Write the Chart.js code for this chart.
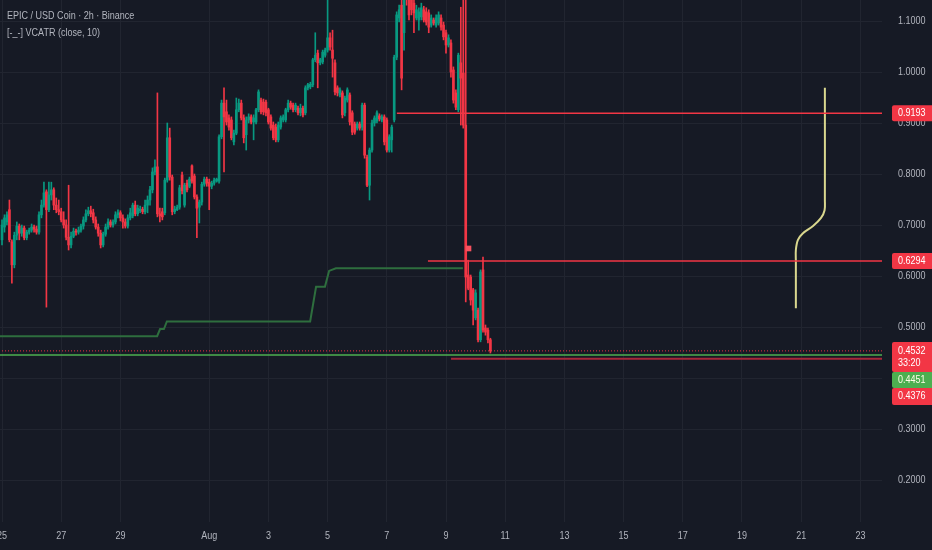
<!DOCTYPE html>
<html>
<head>
<meta charset="utf-8">
<script src="https://cdn.jsdelivr.net/npm/chart.js@4.4.1/dist/chart.umd.min.js"></script>
<style>
  html, body { margin: 0; padding: 0; background: #161a25; }
  #wrap { width: 932px; height: 550px; position: relative; }
</style>
</head>
<body>
<div id="wrap"><canvas id="myChart"></canvas></div>
<script>
// EPIC / USD Coin, 2h candles starting 25 Jul 00:00

const opens = [
  .671,.696,.706,.730,.667,.622,.680,.698,.684,.694,
  .675,.686,.690,.696,.692,.686,.720,.739,.765,.730,
  .759,.769,.739,.730,.726,.710,.700,.676,.661,.678,
  .688,.686,.690,.698,.710,.722,.728,.724,.710,.696,
  .684,.661,.682,.696,.706,.700,.706,.720,.724,.714,
  .706,.698,.714,.718,.739,.722,.728,.731,.726,.739,
  .749,.769,.804,.814,.722,.726,.724,.788,.871,.794,
  .726,.730,.735,.798,.739,.782,.776,.816,.796,.755,
  .735,.745,.780,.790,.784,.776,.782,.786,.786,.873,
  .939,.922,.910,.906,.863,.880,.926,.939,.910,.877,
  .906,.912,.902,.902,.926,.945,.941,.941,.926,.912,
  .896,.892,.867,.892,.906,.906,.926,.939,.935,.926,
  .929,.920,.929,.920,.969,.971,.975,1.024,1.037,1.018,
  1.020,1.033,1.043,1.067,1.043,1.018,.969,.955,.959,.920,
  .945,.955,.920,.898,.890,.898,.892,.935,.833,.778,
  .847,.900,.904,.914,.906,.912,.906,.847,.867,.906,
  1.029,1.106,1.131,1.077,1.161,1.151,1.141,1.135,1.106,1.102,
  1.108,1.122,1.118,1.116,1.092,1.102,1.092,1.096,1.106,1.092,
  1.077,1.053,1.057,1.004,.959,.926,1.018,.998,.896,.602,
  .598,.573,.518,.533,.475,.612,.498,.494,.475
];
const closes = [
  .700,.714,.720,.671,.622,.680,.698,.684,.694,.675,
  .686,.690,.696,.692,.686,.720,.739,.763,.730,.759,
  .769,.739,.730,.726,.710,.700,.676,.661,.678,.688,
  .686,.690,.698,.710,.722,.728,.722,.710,.696,.684,
  .661,.682,.696,.706,.700,.706,.720,.724,.714,.706,
  .698,.714,.724,.739,.722,.733,.731,.726,.739,.749,
  .769,.804,.814,.722,.718,.716,.788,.871,.794,.726,
  .731,.735,.773,.767,.778,.769,.790,.786,.755,.733,
  .745,.780,.790,.782,.776,.782,.788,.790,.873,.939,
  .912,.902,.892,.871,.880,.926,.939,.910,.871,.906,
  .912,.902,.910,.926,.961,.922,.922,.920,.902,.890,
  .871,.867,.896,.910,.912,.926,.939,.931,.926,.935,
  .920,.929,.916,.969,.975,.976,1.024,1.033,1.018,1.024,
  1.039,1.043,1.067,1.049,1.027,.961,.959,.965,.916,.949,
  .965,.902,.882,.882,.898,.890,.935,.837,.778,.847,
  .900,.910,.920,.908,.912,.863,.847,.873,.892,1.029,
  1.112,1.122,.988,1.151,1.145,1.112,1.122,1.116,1.122,1.118,
  1.126,1.102,1.098,1.088,1.106,1.096,1.106,1.112,1.088,1.069,
  1.053,1.067,1.000,.945,.931,1.033,.988,.896,.598,.576,
  .553,.533,.567,.475,.608,.494,.490,.475,.4532
];
const highs = [
  .710,.720,.726,.749,.671,.686,.706,.702,.700,.698,
  .690,.694,.702,.700,.698,.726,.749,.784,.769,.784,
  .784,.773,.753,.749,.733,.726,.710,.778,.686,.694,
  .692,.696,.702,.716,.730,.735,.737,.731,.716,.702,
  .690,.686,.702,.712,.710,.710,.726,.730,.728,.720,
  .712,.720,.733,.743,.747,.739,.737,.735,.749,.757,
  .776,.812,.828,.959,.733,.733,.792,.900,.890,.798,
  .737,.739,.778,.804,.782,.788,.794,.818,.800,.759,
  .749,.784,.794,.794,.790,.786,.792,.792,.877,.945,
  .969,.945,.916,.912,.886,.949,.947,.945,.916,.912,
  .918,.916,.916,.929,.965,.949,.947,.945,.929,.916,
  .902,.898,.902,.914,.916,.929,.945,.943,.939,.939,
  .933,.937,.933,.973,.978,.980,1.027,1.077,1.043,1.027,
  1.043,1.047,1.151,1.077,1.082,1.024,.973,.969,.963,.953,
  .969,.959,.924,.902,.902,.902,.939,.939,.837,.851,
  .906,.914,.924,.918,.916,.916,.910,.877,.896,1.033,
  1.118,1.131,1.145,1.180,1.190,1.180,1.171,1.151,1.131,1.126,
  1.135,1.129,1.126,1.122,1.112,1.106,1.112,1.118,1.112,1.098,
  1.082,1.073,1.063,1.010,.965,1.037,1.127,1.161,1.161,.631,
  .602,.576,.573,.537,.612,.637,.504,.498,.478
];
const lows = [
  .661,.686,.700,.667,.586,.616,.671,.671,.678,.671,
  .671,.682,.686,.686,.682,.682,.714,.735,.539,.726,
  .749,.730,.724,.720,.706,.694,.671,.651,.655,.675,
  .680,.682,.686,.692,.706,.718,.716,.704,.692,.678,
  .655,.657,.678,.692,.696,.696,.702,.714,.708,.694,
  .694,.694,.710,.714,.718,.718,.724,.722,.722,.724,
  .739,.763,.798,.716,.706,.710,.720,.784,.788,.720,
  .722,.728,.731,.761,.735,.765,.773,.782,.751,.675,
  .704,.739,.776,.776,.730,.771,.778,.784,.782,.869,
  .804,.896,.886,.867,.857,.877,.922,.906,.861,.847,
  .900,.898,.867,.898,.922,.918,.916,.914,.898,.886,
  .867,.863,.863,.888,.902,.902,.922,.927,.922,.922,
  .916,.914,.912,.916,.965,.967,.971,1.020,.969,1.014,
  1.016,1.029,1.039,1.043,.990,.955,.953,.951,.910,.914,
  .941,.896,.877,.878,.886,.886,.886,.831,.775,.749,
  .843,.894,.900,.904,.902,.857,.843,.843,.843,.902,
  1.024,1.098,.965,1.043,1.131,1.102,1.112,1.077,1.102,1.082,
  1.102,1.098,1.092,1.077,1.088,1.092,1.088,1.092,1.082,1.063,
  1.037,1.049,.990,.939,.926,.922,.896,.890,.549,.573,
  .543,.504,.514,.471,.471,.490,.484,.469,.449
];

// VCATR (close, 10) - step line, [day, price]
const vcatr = [
  [-0.1, 0.482], [5.24, 0.482], [5.34, 0.496], [5.47, 0.496], [5.57, 0.511],
  [10.41, 0.511], [10.61, 0.579], [10.91, 0.579], [11.05, 0.610], [11.28, 0.615],
  [15.57, 0.615]
];

// drawn levels: [price, fromDay]
const levelRed1 = [0.9193, 13.34];
const levelRed2 = [0.6294, 14.39];
const levelRed3 = [0.4376, 15.17];
const lastPrice = 0.4532;
const greenLevel = 0.4451;
const countdown = '33:20';

// hand drawn yellow path [day, price]
const yellowPath = [
  [27.80, 0.969], [27.80, 0.749], [27.79, 0.729], [27.67, 0.714], [27.40, 0.698],
  [27.06, 0.684], [26.89, 0.671], [26.82, 0.651], [26.82, 0.628], [26.82, 0.537]
];
const marker = [15.76, 0.654];

const tickDays = [0, 2, 4, 7, 9, 11, 13, 15, 17, 19, 21, 23, 25, 27, 29];
const tickLabels = ['25', '27', '29', 'Aug', '3', '5', '7', '9', '11', '13', '15', '17', '19', '21', '23'];
const priceTicks = [0.2, 0.3, 0.4, 0.5, 0.6, 0.7, 0.8, 0.9, 1.0, 1.1];

const titleText = 'EPIC / USD Coin \u00b7 2h \u00b7 Binance';
const indicatorText = '[-_-] VCATR (close, 10)';

const up = '#089981', down = '#f23645';
const textFont = '11px "Liberation Sans", Arial, sans-serif';
const squeeze = 0.82;   // screenshot text is narrow
const dayEnd = 30;

const times = closes.map((c, i) => i * 2 / 24); // 2h bars, in days
const candleColor = times.map((t, i) => closes[i] >= opens[i] ? up : down);

function hLine(price, from, color, width, dash) {
  return {
    type: 'line',
    data: [{ x: from, y: price }, { x: dayEnd, y: price }],
    borderColor: color, borderWidth: width, borderDash: dash || [],
    pointRadius: 0, order: 1
  };
}

function narrowText(ctx, s, x, y, align, color) {
  ctx.save();
  ctx.translate(x, y);
  ctx.scale(squeeze, 1);
  ctx.textAlign = align;
  ctx.textBaseline = 'middle';
  ctx.fillStyle = color;
  ctx.font = textFont;
  ctx.fillText(s, 0, 0);
  ctx.restore();
}

const overlay = {
  id: 'overlay',
  beforeDraw(chart) {
    const ctx = chart.ctx;
    ctx.save();
    ctx.fillStyle = '#161a25';
    ctx.fillRect(0, 0, chart.width, chart.height);
    ctx.restore();
  },
  afterDraw(chart) {
    const ctx = chart.ctx;
    const xs = chart.scales.x, ys = chart.scales.y;
    const left = chart.chartArea.right + 10;
    const w = chart.width - left;
    const axisColor = '#b2b5be';

    narrowText(ctx, titleText, 7, 16, 'left', axisColor);
    narrowText(ctx, indicatorText, 7, 33, 'left', axisColor);

    // axis labels
    tickDays.forEach((d, i) => narrowText(ctx, tickLabels[i], xs.getPixelForValue(d), 536, 'center', axisColor));
    priceTicks.forEach(p => narrowText(ctx, p.toFixed(4), left + 6, ys.getPixelForValue(p), 'left', axisColor));

    function box(top, h, color) {
      ctx.save();
      ctx.fillStyle = color;
      ctx.beginPath();
      ctx.roundRect(left, top, w, h, [2, 0, 0, 2]);
      ctx.fill();
      ctx.restore();
    }
    [levelRed1[0], levelRed2[0]].forEach(p => {
      const py = ys.getPixelForValue(p);
      box(py - 8, 16, down);
      narrowText(ctx, p.toFixed(4), left + 6, py, 'left', '#ffffff');
    });
    let top = ys.getPixelForValue(lastPrice) - 9;
    box(top, 30, down);
    narrowText(ctx, lastPrice.toFixed(4), left + 6, top + 9, 'left', '#ffffff');
    narrowText(ctx, countdown, left + 6, top + 21, 'left', '#ffffff');
    top += 30;
    box(top, 16, '#4caf50');
    narrowText(ctx, greenLevel.toFixed(4), left + 6, top + 8, 'left', '#fffde7');
    top += 16;
    box(top, 17, down);
    narrowText(ctx, levelRed3[0].toFixed(4), left + 6, top + 8.5, 'left', '#ffffff');
  }
};

const ctx = document.getElementById('myChart');
new Chart(ctx, {
  type: 'bar',
  data: {
    datasets: [
      { // wicks
        data: times.map((t, i) => ({ x: t, y: [lows[i], highs[i]] })),
        backgroundColor: candleColor, barThickness: 1, grouped: false, order: 4
      },
      { // bodies
        data: times.map((t, i) => ({ x: t, y: [opens[i], closes[i]] })),
        backgroundColor: candleColor, barThickness: 2, minBarLength: 1, grouped: false, order: 3
      },
      {
        type: 'line', data: vcatr.map(p => ({ x: p[0], y: p[1] })),
        borderColor: '#2e6e3e', borderWidth: 2, pointRadius: 0, order: 2
      },
      hLine(levelRed1[0], levelRed1[1], down, 1.5),
      hLine(levelRed2[0], levelRed2[1], down, 1.5),
      hLine(levelRed3[0], levelRed3[1], '#a8283a', 2),
      hLine(lastPrice, -0.1, down, 1, [1, 2]),
      hLine(greenLevel, -0.1, '#4caf50', 1.5),
      {
        type: 'line', data: yellowPath.map(p => ({ x: p[0], y: p[1] })),
        borderColor: '#d9d78e', borderWidth: 2, pointRadius: 0, tension: 0.35, order: 1
      },
      {
        type: 'scatter', data: [{ x: marker[0], y: marker[1] }],
        pointStyle: 'rect', pointRadius: 4, backgroundColor: '#f7525f', borderWidth: 0, order: 1
      }
    ]
  },
  options: {
    responsive: true,
    maintainAspectRatio: false,
    animation: false,
    layout: { padding: 0, autoPadding: false },
    plugins: { legend: { display: false }, tooltip: { enabled: false } },
    scales: {
      x: {
        type: 'linear', min: -0.068, max: 29.73, offset: false,
        afterBuildTicks: s => { s.ticks = tickDays.map(v => ({ value: v })); },
        afterFit: s => { s.height = 28; s.paddingLeft = 0; s.paddingRight = 0; },
        ticks: { display: false },
        grid: { color: '#212530', drawTicks: false, offset: false },
        border: { display: false }
      },
      y: {
        position: 'right', min: 0.1177, max: 1.1412,
        afterBuildTicks: s => { s.ticks = priceTicks.map(v => ({ value: v })); },
        afterFit: s => { s.width = 50; s.paddingTop = 0; s.paddingBottom = 0; },
        ticks: { display: false },
        grid: { color: '#212530', drawTicks: false },
        border: { display: false }
      }
    }
  },
  plugins: [overlay]
});
</script>
</body>
</html>
